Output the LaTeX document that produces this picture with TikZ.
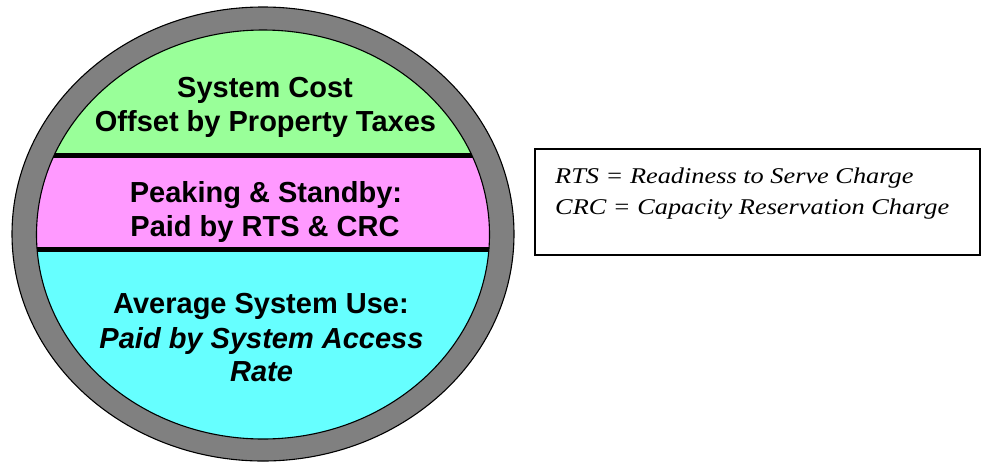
\documentclass[tikz,border=0pt]{standalone}
\usepackage{fontspec}
\setmainfont{Liberation Sans}
\newfontfamily\legendserif[FakeStretch=1.17]{Liberation Serif}
\newcommand\legendfont{\legendserif\itshape\fontsize{22.5}{26}\selectfont}
\definecolor{bandgreen}{HTML}{99FF99}
\definecolor{bandpink}{HTML}{FF99FF}
\definecolor{bandcyan}{HTML}{66FFFF}
\definecolor{ringgray}{HTML}{808080}
\tikzset{
  bandtext/.style={font=\fontsize{29}{34}\selectfont\bfseries, anchor=base, inner sep=0pt},
  bandital/.style={bandtext, font=\fontsize{29}{34}\selectfont\bfseries\itshape},
  legendtext/.style={font=\legendfont, anchor=base west, inner sep=0pt},
  legendbox/.style={draw=black, line width=1.4pt, minimum width=445pt, minimum height=106pt, inner sep=0pt},
  divider/.style={line width=4.3pt, draw=black},
  outline/.style={line width=1.1pt, draw=black}
}
\begin{document}
\begin{tikzpicture}[x=1pt,y=-1pt]
\useasboundingbox (0,0) rectangle (984,461);
% ring
\fill[ringgray] (263,234) ellipse [x radius=251, y radius=227];
\draw[outline] (263,234) ellipse [x radius=251, y radius=227];
% bands
\begin{scope}
  \clip (263,234.5) ellipse [x radius=226.5, y radius=204.5];
  \fill[bandgreen] (0,0) rectangle (984,155.5);
  \fill[bandpink] (0,155.5) rectangle (984,249.5);
  \fill[bandcyan] (0,249.5) rectangle (984,461);
  \draw[divider] (0,155.5) -- (984,155.5);
  \draw[divider] (0,249.5) -- (984,249.5);
\end{scope}
\draw[outline] (263,234.5) ellipse [x radius=226.5, y radius=204.5];
% texts
\node[bandtext] (t1) at (265,97) {System Cost};
\node[bandtext] (t2) at (265.5,131) {Offset by Property Taxes};
\node[bandtext] (p1) at (266,202) {Peaking \& Standby:};
\node[bandtext] (p2) at (265,236) {Paid by RTS \& CRC};
\node[bandtext] (a1) at (261,313) {Average System Use:};
\node[bandital] (a2) at (261.5,348) {Paid by System Access};
\node[bandital] (a3) at (261.5,381) {Rate};
% legend
\node[legendbox] (legend) at (757.5,202) {};
\node[legendtext] (rts) at (555,183) {RTS = Readiness to Serve Charge};
\node[legendtext] (crc) at (555,214) {CRC = Capacity Reservation Charge};
\end{tikzpicture}
\end{document}
